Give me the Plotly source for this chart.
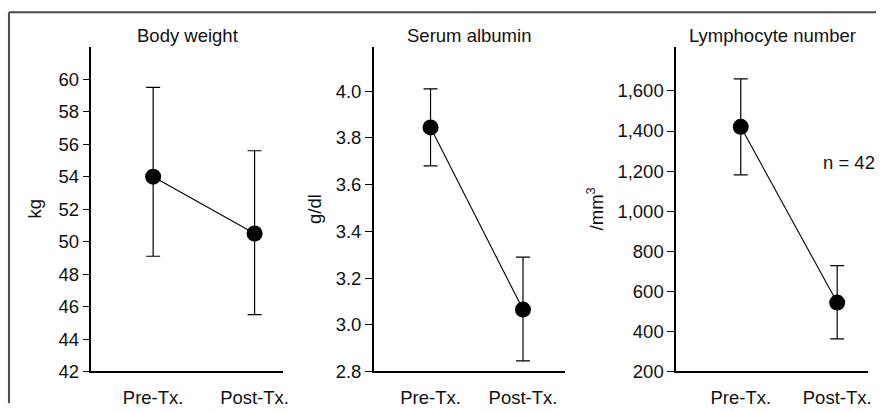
import plotly.graph_objects as go

W, H = 881, 413

categories = ["Pre-Tx.", "Post-Tx."]

bw_mean = [54.0, 50.5]
bw_upper = [59.5, 55.6]
bw_lower = [49.1, 45.5]

alb_mean = [3.845, 3.065]
alb_upper = [4.01, 3.29]
alb_lower = [3.68, 2.845]

lym_mean = [1421, 544]
lym_upper = [1660, 728]
lym_lower = [1181, 363]

titles = ["Body weight", "Serum albumin", "Lymphocyte number"]
ytitles = ["kg", "g/dl", "/mm<sup>3</sup>"]

bw_ticks = [42, 44, 46, 48, 50, 52, 54, 56, 58, 60]
alb_ticks = [2.8, 3.0, 3.2, 3.4, 3.6, 3.8, 4.0]
alb_ticktext = ["2.8", "3.0", "3.2", "3.4", "3.6", "3.8", "4.0"]
lym_ticks = [200, 400, 600, 800, 1000, 1200, 1400, 1600]

n_label = "n = 42"

FONT = "Liberation Sans, Arial, sans-serif"
FS = 18.5

fig = go.Figure()

panels = [
    (bw_mean, bw_upper, bw_lower, "x", "y"),
    (alb_mean, alb_upper, alb_lower, "x2", "y2"),
    (lym_mean, lym_upper, lym_lower, "x3", "y3"),
]
for mean, up, lo, xa, ya in panels:
    fig.add_trace(go.Scatter(
        x=categories, y=mean, mode="lines+markers",
        line=dict(color="black", width=1.1),
        marker=dict(color="black", size=16),
        error_y=dict(type="data", symmetric=False,
                     array=[u - m for u, m in zip(up, mean)],
                     arrayminus=[m - l for m, l in zip(mean, lo)],
                     color="black", thickness=1.2, width=7),
        xaxis=xa, yaxis=ya, showlegend=False, cliponaxis=False,
    ))

def px(x):
    return x / W

def py(y):
    return 1 - y / H

xdoms = [(92, 285), (376, 568), (680, 873)]
xranges = [(-0.608, 1.284), (-0.613, 1.452), (-0.67, 1.32)]
ydom = [py(380.7), py(48)]

common_x = dict(showgrid=False, zeroline=False, showline=True, linecolor="black",
                linewidth=1.5, ticks="", tickfont=dict(family=FONT, size=FS, color="#111"),
                type="category", ticklabelstandoff=9)
common_y = dict(showgrid=False, zeroline=False, showline=True, linecolor="black",
                linewidth=1.5, ticks="outside", ticklen=7, tickwidth=1.3, tickcolor="black",
                tickfont=dict(family=FONT, size=FS, color="#111"))

names = ["", "2", "3"]
yranges = [(42, 62), (2.8, 4.19), (200, 1820)]
for i, nm in enumerate(names):
    xd = xdoms[i]
    fig.layout["xaxis" + nm] = dict(common_x, domain=[px(xd[0]), px(xd[1])],
                                    range=list(xranges[i]), anchor="y" + nm)
    fig.layout["yaxis" + nm] = dict(common_y, domain=ydom, range=list(yranges[i]),
                                    anchor="x" + nm)

fig.layout.yaxis.update(tickvals=bw_ticks)
fig.layout.yaxis2.update(tickvals=alb_ticks, ticktext=alb_ticktext)
fig.layout.yaxis3.update(tickvals=lym_ticks, tickformat=",d")

annotations = []
for i, t in enumerate(titles):
    xd = xdoms[i]
    annotations.append(dict(text=t, x=px((xd[0] + xd[1]) / 2), y=py(36), xref="paper", yref="paper",
                            showarrow=False, font=dict(family=FONT, size=FS, color="#111"),
                            xanchor="center", yanchor="middle"))
for xpos, t in zip([35, 317, 598], ytitles):
    annotations.append(dict(text=t, x=px(xpos), y=py(214), xref="paper", yref="paper",
                            showarrow=False, textangle=-90,
                            font=dict(family=FONT, size=FS, color="#111"),
                            xanchor="center", yanchor="middle"))
annotations.append(dict(text=n_label, x=1.12, y=1242, xref="x3", yref="y3", showarrow=False,
                        font=dict(family=FONT, size=FS, color="#111"),
                        xanchor="center", yanchor="middle"))

shapes = [
    dict(type="line", xref="paper", yref="paper", x0=px(9), x1=px(9), y0=0, y1=py(12.5),
         line=dict(color="#4a4a4a", width=2)),
    dict(type="line", xref="paper", yref="paper", x0=px(9), x1=1, y0=py(12.5), y1=py(12.5),
         line=dict(color="#4a4a4a", width=2)),
]

fig.update_layout(width=W, height=H, margin=dict(l=0, r=0, t=0, b=0),
                  paper_bgcolor="white", plot_bgcolor="white",
                  annotations=annotations, shapes=shapes,
                  font=dict(family=FONT, size=FS, color="#111"))

fig.write_html("out.html")
